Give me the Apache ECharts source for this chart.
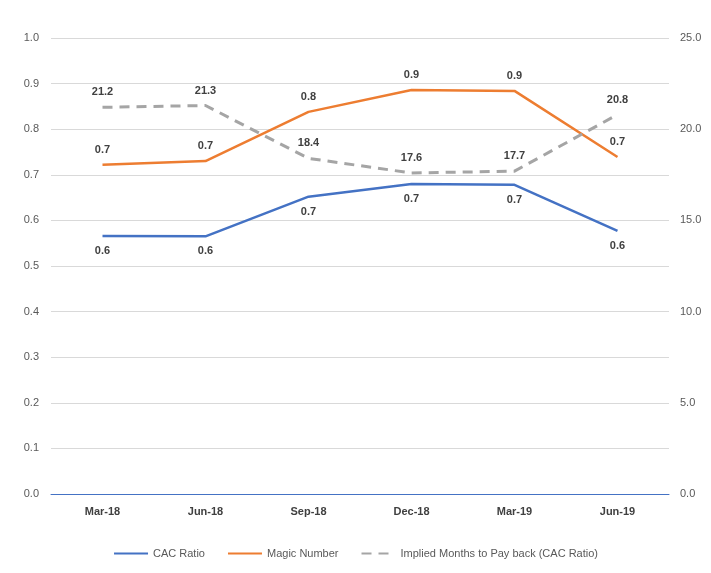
<!DOCTYPE html>
<html>
<head>
<meta charset="utf-8">
<script src="https://cdn.jsdelivr.net/npm/echarts@6/dist/echarts.min.js"></script>
<style>
  html, body { margin: 0; padding: 0; background: #fff; }
  #chart { width: 711px; height: 573px; }
</style>
</head>
<body>
<div id="chart"></div>
<script>
// 数据
var quarters = ['Mar-18', 'Jun-18', 'Sep-18', 'Dec-18', 'Mar-19', 'Jun-19'];
var cacRatio = [0.566, 0.565, 0.652, 0.680, 0.678, 0.577];
var magicNumber = [0.722, 0.730, 0.838, 0.886, 0.884, 0.739];
var monthsPayback = [21.2, 21.3, 18.4, 17.6, 17.7, 20.8];

var seriesNames = ['CAC Ratio', 'Magic Number', 'Implied Months to Pay back (CAC Ratio)'];
var colors = ['#4472C4', '#ED7D31', '#A5A5A5'];

var labelStyle = {
    show: true,
    fontFamily: 'Liberation Sans, Arial',
    fontSize: 11,
    fontWeight: 'bold',
    color: '#404040',
    distance: 9,
    formatter: function (p) { return p.value.toFixed(1); }
};

function makeLine(idx, data, axis, pos, lineType) {
    return {
        name: seriesNames[idx],
        type: 'line',
        yAxisIndex: axis,
        data: data,
        symbol: 'circle',
        symbolSize: 1,
        showSymbol: true,
        itemStyle: { color: 'rgba(255,255,255,0)', borderWidth: 0 },
        lineStyle: { width: idx === 2 ? 3 : 2.5, color: colors[idx], type: lineType },
        label: Object.assign({}, labelStyle, { position: pos })
    };
}

var myChart = echarts.init(document.getElementById('chart'));
var option = {
    animation: false,
    color: colors,
    textStyle: { fontFamily: 'Liberation Sans, Arial' },
    grid: { left: 51, right: 42, top: 38, bottom: 79 },
    legend: {
        bottom: 9,
        left: 'center',
        itemWidth: 34,
        itemHeight: 3,
        itemGap: 22,
        textStyle: { fontSize: 11, color: '#595959' },
        data: seriesNames
    },
    xAxis: {
        type: 'category',
        data: quarters,
        boundaryGap: true,
        axisLine: { lineStyle: { color: '#4472C4', width: 1 } },
        axisTick: { show: false },
        axisLabel: { color: '#404040', fontSize: 11, fontWeight: 'bold', margin: 12 }
    },
    yAxis: [
        {
            type: 'value',
            min: 0, max: 1, interval: 0.1,
            axisLine: { show: false },
            axisTick: { show: false },
            axisLabel: { color: '#595959', fontSize: 11, margin: 12, formatter: function (v) { return v.toFixed(1); } },
            splitLine: { lineStyle: { color: '#D9D9D9' } }
        },
        {
            type: 'value',
            min: 0, max: 25, interval: 5,
            axisLine: { show: false },
            axisTick: { show: false },
            axisLabel: { color: '#595959', fontSize: 11, margin: 11, formatter: function (v) { return v.toFixed(1); } },
            splitLine: { show: false }
        }
    ],
    series: [
        makeLine(0, cacRatio, 0, 'bottom', 'solid'),
        makeLine(1, magicNumber, 0, 'top', 'solid'),
        makeLine(2, monthsPayback, 1, 'top', [10, 7])
    ]
};
myChart.setOption(option);
</script>
</body>
</html>
